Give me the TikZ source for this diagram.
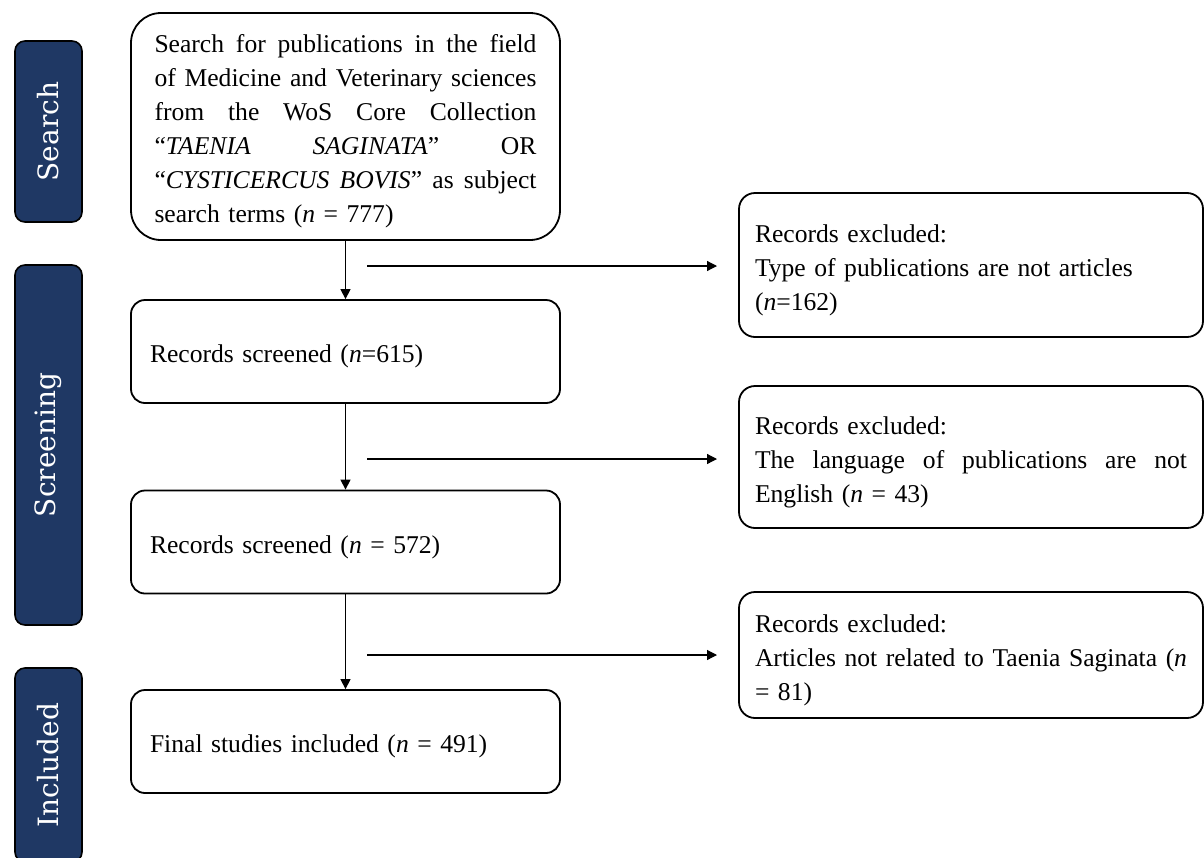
\documentclass[tikz,border=0pt]{standalone}
\usepackage{fontspec}
\setmainfont{Liberation Serif}
\newfontfamily\barfont{DejaVu Serif}
\usetikzlibrary{arrows.meta}
\setlength{\parindent}{0pt}
\definecolor{navy}{RGB}{31,56,100}
\newcommand{\jline}[2]{\makebox[#1][s]{\spaceskip=0.25em plus 1fil\relax #2}}
\newcommand{\topstrut}{\rule{0pt}{14pt}}

\begin{document}
\begin{tikzpicture}[x=0.5pt, y=-0.5pt,
    every node/.style={font=\fontsize{12.8}{17}\selectfont},
    stagebar/.style={draw=black, line width=0.8pt, fill=navy, rounded corners=5pt,
        rotate=90, text=white, font=\barfont\fontsize{14}{16}\selectfont,
        minimum height=33.5pt, inner sep=0pt},
    mainbox/.style={draw=black, line width=0.9pt, rounded corners=7pt,
        minimum width=214.5pt, minimum height=51.5pt, text width=195.5pt,
        align=left, inner sep=0pt, execute at begin node={\topstrut}},
    exclbox/.style={draw=black, line width=0.9pt, rounded corners=8pt,
        minimum width=232pt, text width=216pt, align=left, inner sep=0pt,
        execute at begin node={\topstrut}},
    flow/.style={-{Triangle[length=5pt,width=5pt]}, line width=0.6pt}]

    \useasboundingbox (0,0) rectangle (1204,857);

    % stages
    \node[stagebar, minimum width=90.5pt] (searchbar) at (48.5,131.5) {Search};
    \node[stagebar, minimum width=180pt]  (screenbar) at (48.5,445) {Screening};
    \node[stagebar, minimum width=97pt]   (inclbar)   at (48.5,765) {Included};

    % main column
    \node[mainbox, rounded corners=15pt, minimum height=113.5pt, text width=191pt]
        (search) at (345.5,126.5)
        {\jline{191pt}{Search for publications in the field}\\
         \jline{191pt}{of Medicine and Veterinary sciences}\\
         \jline{191pt}{from the WoS Core Collection}\\
         \jline{191pt}{“\textit{TAENIA} \textit{SAGINATA}” OR}\\
         \jline{191pt}{“\textit{CYSTICERCUS BOVIS}” as subject}\\
         search terms (\textit{n} = 777)};
    \node[mainbox] (screen1) at (345.5,351.5) {Records screened (\textit{n}=615)};
    \node[mainbox] (screen2) at (345.5,542)   {Records screened (\textit{n} = 572)};
    \node[mainbox] (final)   at (345.5,741.5) {Final studies included (\textit{n} = 491)};

    % exclusions
    \node[exclbox, minimum height=72pt] (excl1) at (971,265)
        {Records excluded:\\ Type of publications are not articles\\ (\textit{n}=162)};
    \node[exclbox, minimum height=71pt] (excl2) at (971,457)
        {Records excluded:\\ \jline{216pt}{The language of publications are not}\\
         English (\textit{n} = 43)};
    \node[exclbox, minimum height=63pt] (excl3) at (971,655)
        {Records excluded:\\ \jline{216pt}{Articles not related to Taenia Saginata (\textit{n}}\\
         = 81)};

    \foreach \a/\b in {search/screen1, screen1/screen2, screen2/final}
        \draw[flow] (\a.south) -- (\b.north);

    \foreach \i/\y in {1/266, 2/459, 3/655} {
        \coordinate (from\i) at (367,\y);
        \coordinate (to\i) at (717,\y);
        \draw[flow] (from\i) -- (to\i);
    }

\end{tikzpicture}
\end{document}
